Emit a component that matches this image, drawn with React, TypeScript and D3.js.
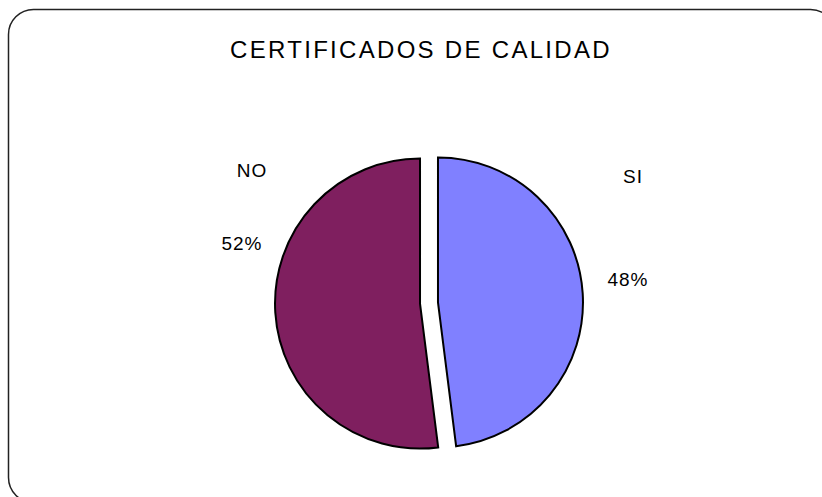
import { useEffect, useRef } from 'react';
import * as d3 from 'd3';

// Chart data
const categories = ['SI', 'NO'];
const values = [48, 52];
const colours = ['#8080FF', '#7F1F5F'];
const title = 'CERTIFICADOS DE CALIDAD';

const App = () => {
  const svgRef = useRef<SVGSVGElement>(null);
  const width = 822;
  const height = 497;

  useEffect(() => {
    if (!svgRef.current) return;

    const svg = d3.select(svgRef.current);
    svg.selectAll('*').remove();

    // rounded frame, runs past the right and bottom edges
    svg.append('rect')
      .attr('x', 8.5)
      .attr('y', 9.5)
      .attr('width', 827)
      .attr('height', 493)
      .attr('rx', 25)
      .attr('ry', 25)
      .attr('fill', '#fff')
      .attr('stroke', '#222')
      .attr('stroke-width', 1.5);

    svg.append('text')
      .attr('x', 421)
      .attr('y', 58)
      .attr('text-anchor', 'middle')
      .attr('font-family', 'Liberation Sans, Arial, sans-serif')
      .attr('font-size', 24)
      .attr('letter-spacing', 2.3)
      .attr('fill', '#000')
      .text(title);

    const cx = 429;
    const cy = 303;
    const radius = 145;
    const explode = 9;

    const pie = d3.pie<number>()
      .sort(null)
      .startAngle(0)
      .endAngle(2 * Math.PI);

    const arcs = pie(values);

    const arc = d3.arc<d3.PieArcDatum<number>>()
      .innerRadius(0)
      .outerRadius(radius);

    const g = svg.append('g').attr('transform', `translate(${cx},${cy})`);

    // slices pulled out along their middle angle
    g.selectAll('path.slice')
      .data(arcs)
      .enter()
      .append('path')
      .attr('class', 'slice')
      .attr('transform', d => {
        const mid = (d.startAngle + d.endAngle) / 2;
        return `translate(${Math.sin(mid) * explode},${-Math.cos(mid) * explode})`;
      })
      .attr('d', arc)
      .attr('fill', (_, i) => colours[i])
      .attr('stroke', '#000')
      .attr('stroke-width', 2);

    // category names and percentages, placed like the original
    const namePos = [
      [633, 183],
      [252, 177]
    ];
    const pctPos = [
      [628, 286],
      [242, 250]
    ];

    const labels = svg.append('g')
      .attr('font-family', 'Liberation Sans, Arial, sans-serif')
      .attr('font-size', 19)
      .attr('letter-spacing', 1)
      .attr('text-anchor', 'middle')
      .attr('fill', '#000');

    arcs.forEach((d, i) => {
      labels.append('text')
        .attr('x', namePos[i][0])
        .attr('y', namePos[i][1])
        .text(categories[i]);
      labels.append('text')
        .attr('x', pctPos[i][0])
        .attr('y', pctPos[i][1])
        .text(d3.format('.0f')(d.data) + '%');
    });
  }, []);

  return (
    <svg
      ref={svgRef}
      width={width}
      height={height}
      style={{ position: 'absolute', left: 0, top: 0 }}
    />
  );
};

export default App;
